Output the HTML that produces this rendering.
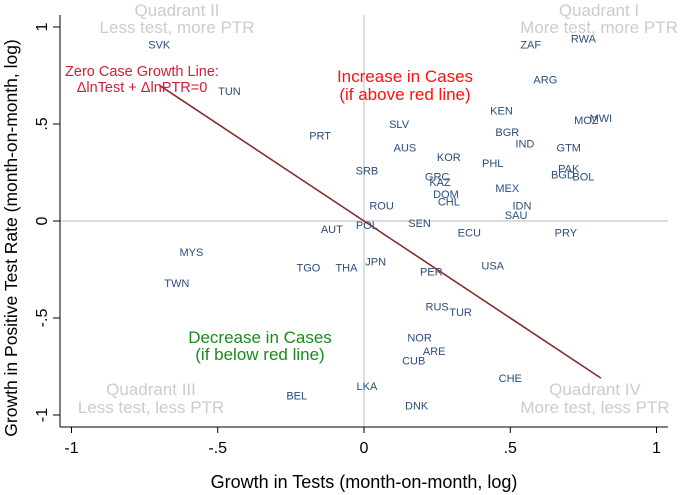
<!DOCTYPE html>
<html><head><meta charset="utf-8"><style>
html,body{margin:0;padding:0;background:#fff;}
svg{display:block;font-family:"Liberation Sans",sans-serif;}
</style></head><body>
<svg id="chart" width="685" height="495" viewBox="0 0 685 495">
<g id="grid"></g>
<g id="axes"></g>
<g id="labels"></g>
</svg>
<script>
const countries = ["SVK","TUN","PRT","AUT","MYS","TWN","TGO","THA","JPN","PER","USA","RUS","TUR","NOR","ARE","CUB","LKA","DNK","CHE","BEL","ZAF","RWA","ARG","KEN","MOZ","MWI","SLV","BGR","IND","GTM","AUS","KOR","PHL","SRB","PAK","BGD","BOL","GRC","KAZ","DOM","CHL","MEX","ROU","IDN","SAU","POL","SEN","ECU","PRY"];
const testGrowth = [-0.70,-0.46,-0.15,-0.11,-0.59,-0.64,-0.19,-0.06,0.04,0.23,0.44,0.25,0.33,0.19,0.24,0.17,0.01,0.18,0.50,-0.23,0.57,0.75,0.62,0.47,0.76,0.81,0.12,0.49,0.55,0.70,0.14,0.29,0.44,0.01,0.70,0.68,0.75,0.25,0.26,0.28,0.29,0.49,0.06,0.54,0.52,0.01,0.19,0.36,0.69];
const ptrGrowth = [0.91,0.67,0.44,-0.04,-0.16,-0.32,-0.24,-0.24,-0.21,-0.26,-0.23,-0.44,-0.47,-0.60,-0.67,-0.72,-0.85,-0.95,-0.81,-0.90,0.91,0.94,0.73,0.57,0.52,0.53,0.50,0.46,0.40,0.38,0.38,0.33,0.30,0.26,0.27,0.24,0.23,0.23,0.20,0.14,0.10,0.17,0.08,0.08,0.03,-0.02,-0.01,-0.06,-0.06];
const xTicks = [-1,-0.5,0,0.5,1];
const xTickLabels = ["-1","-.5","0",".5","1"];
const yTicks = [-1,-0.5,0,0.5,1];
const yTickLabels = ["-1","-.5","0",".5","1"];
const zeroLineX = [-0.70,0.81];

const NS="http://www.w3.org/2000/svg";
const sx = v => 364 + v*292.5;
const sy = v => 221 - v*194;
function mk(tag, attrs, parent, text){
  const e=document.createElementNS(NS,tag);
  for(const k in attrs) e.setAttribute(k,attrs[k]);
  if(text!==undefined) e.textContent=text;
  parent.appendChild(e); return e;
}
const grid=document.getElementById('grid'), axes=document.getElementById('axes'), lab=document.getElementById('labels');
let e;
e=mk('line',{x1:60,x2:668,y1:sy(0),y2:sy(0),stroke:'#c8c8c8','stroke-width':1.2},grid);


e=mk('line',{x1:sx(0),x2:sx(0),y1:15,y2:427,stroke:'#c8c8c8','stroke-width':1.2},grid);


e=mk('line',{x1:60,x2:60,y1:15,y2:427,stroke:'#000','stroke-width':1},axes);


e=mk('line',{x1:60,x2:668,y1:427,y2:427,stroke:'#000','stroke-width':1},axes);


xTicks.forEach((t,i)=>{
  const x=sx(t);
  e=mk('line',{x1:x,x2:x,y1:427,y2:433,stroke:'#000'},axes);
  
  
  e=mk('text',{x:x,y:453,'text-anchor':'middle','font-size':16,fill:'#000'},axes,xTickLabels[i]);
  
  
});
yTicks.forEach((t,i)=>{
  const y=sy(t);
  e=mk('line',{x1:53,x2:60,y1:y,y2:y,stroke:'#000'},axes);
  
  
  e=mk('text',{x:0,y:0,'text-anchor':'middle','font-size':16,fill:'#000',transform:`translate(47,${y}) rotate(-90)`},axes,yTickLabels[i]);
  
  
});
e=mk('text',{x:364,y:488,'text-anchor':'middle','font-size':18,fill:'#000'},axes,'Growth in Tests (month-on-month, log)');


e=mk('text',{x:0,y:0,'text-anchor':'middle','font-size':17.5,fill:'#000',transform:'translate(17,238) rotate(-90)'},axes,'Growth in Positive Test Rate (month-on-month, log)');


e=mk('line',{x1:sx(zeroLineX[0]),y1:sy(-zeroLineX[0]),x2:sx(zeroLineX[1]),y2:sy(-zeroLineX[1]),stroke:'#8b2a2a','stroke-width':1.6},lab);


countries.forEach((c,i)=>{
  e=mk('text',{x:sx(testGrowth[i]),y:sy(ptrGrowth[i])+4,'text-anchor':'middle','font-size':11,fill:'#2a4d7a'},lab,c);
  
  
});
function txt(x,y,s,size,fill,name){
  e=mk('text',{x:x,y:y,'text-anchor':'middle','font-size':size,fill:fill},lab,s);
  
  
}
txt(177,16,'Quadrant II',17,'#cccccc','quadrant-2-title');
txt(177,33,'Less test, more PTR',17,'#cccccc','quadrant-2-desc');
txt(599,16,'Quadrant I',17,'#cccccc','quadrant-1-title');
txt(599,33,'More test, more PTR',17,'#cccccc','quadrant-1-desc');
txt(151,395,'Quadrant III',17,'#cccccc','quadrant-3-title');
txt(151,413,'Less test, less PTR',17,'#cccccc','quadrant-3-desc');
txt(595,395,'Quadrant IV',17,'#cccccc','quadrant-4-title');
txt(595,413,'More test, less PTR',17,'#cccccc','quadrant-4-desc');
txt(142,76,'Zero Case Growth Line:',14.5,'#d0203a','zero-line-label');
txt(142,92,'ΔlnTest + ΔlnPTR=0',14.5,'#d0203a','zero-line-equation');
txt(405,82,'Increase in Cases',17,'#ff1010','increase-label');
txt(405,100,'(if above red line)',17,'#ff1010','increase-note');
txt(260,343,'Decrease in Cases',17,'#1a8a1a','decrease-label');
txt(260,360,'(if below red line)',17,'#1a8a1a','decrease-note');
</script>
</body></html>
